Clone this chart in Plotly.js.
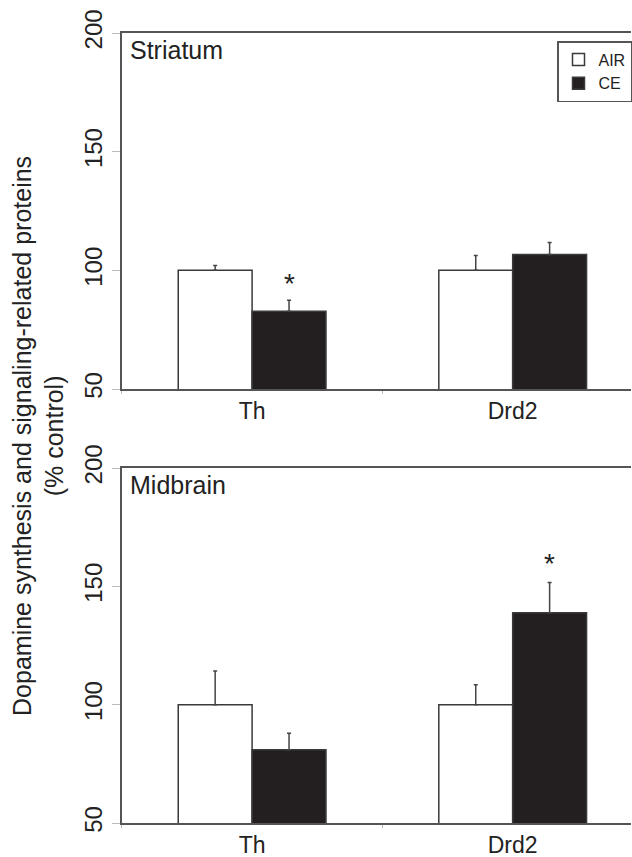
<!DOCTYPE html>
<html>
<head>
<meta charset="utf-8">
<script src="https://cdn.plot.ly/plotly-3.0.1.min.js"></script>
<style>html,body{margin:0;padding:0;background:#fff;}#chart{width:632px;height:857px;}</style>
</head>
<body>
<div id="chart"></div>
<script>
// ---- data ----
const categories = ['Th', 'Drd2'];
const tickVals = [50, 100, 150, 200];

const striatumAir = [100, 100];
const striatumAirErr = [2, 6.3];
const striatumCe = [82.8, 106.7];
const striatumCeErr = [4.6, 5];
const striatumSig = ['*', ''];

const midbrainAir = [100, 100];
const midbrainAirErr = [14.2, 8.4];
const midbrainCe = [81, 138.8];
const midbrainCeErr = [6.9, 12.8];
const midbrainSig = ['', '*'];

const panelNames = ['Striatum', 'Midbrain'];
const seriesNames = ['AIR', 'CE'];
// --------------------------------------

const FONT = 'Liberation Sans, Arial, sans-serif';
const dark = '#231f20';
const lineC = '#555555';
const zeros = categories.map(() => 0);

function barTrace(name, vals, errs, fill, xa, ya, show) {
  return {
    type: 'bar', name: name, x: categories, y: vals,
    xaxis: xa, yaxis: ya, showlegend: show,
    marker: {color: fill, line: {color: '#3a3a3a', width: 1.5}},
    error_y: {type: 'data', symmetric: false, array: errs, arrayminus: zeros,
              color: '#444', thickness: 1.5, width: 2},
    hoverinfo: 'skip'
  };
}

const data = [
  barTrace(seriesNames[0], striatumAir, striatumAirErr, '#ffffff', 'x', 'y', true),
  barTrace(seriesNames[1], striatumCe, striatumCeErr, dark, 'x', 'y', true),
  barTrace(seriesNames[0], midbrainAir, midbrainAirErr, '#ffffff', 'x2', 'y2', false),
  barTrace(seriesNames[1], midbrainCe, midbrainCeErr, dark, 'x2', 'y2', false)
];

const xDom = [122 / 632, 1];
const xRange = [-0.5, -0.5 + 510 / 261];

function xaxis(anchor) {
  return {
    domain: xDom, anchor: anchor, type: 'category', range: xRange,
    showline: true, linecolor: lineC, linewidth: 2, mirror: true,
    ticks: 'outside', tickson: 'boundaries', ticklen: 3, tickcolor: '#bbbbbb', tickwidth: 1,
    showgrid: false, zeroline: false,
    tickfont: {family: FONT, size: 23, color: '#222'}
  };
}
function yaxis(anchor, dom) {
  return {
    domain: dom, anchor: anchor, range: [50, 200],
    tickvals: tickVals, ticktext: tickVals.map(String),
    tickangle: -90,
    showline: true, linecolor: lineC, linewidth: 2, mirror: false,
    ticks: 'outside', ticklen: 8, tickcolor: '#bbbbbb', tickwidth: 1,
    showgrid: false, zeroline: false,
    tickfont: {family: FONT, size: 24, color: '#222'}
  };
}

const annotations = [];
// panel titles
[['x', 'y'], ['x2', 'y2']].forEach((ax, i) => {
  annotations.push({
    xref: ax[0] + ' domain', yref: ax[1] + ' domain', x: 0.012, y: 0.998,
    xanchor: 'left', yanchor: 'top', showarrow: false,
    text: panelNames[i], font: {family: FONT, size: 25, color: '#222'}
  });
});
// significance asterisks over the CE bars
function addSig(sig, vals, errs, xa, ya, off) {
  sig.forEach((s, i) => {
    if (!s) return;
    annotations.push({
      xref: xa, yref: ya, x: i + 0.142, y: vals[i] + errs[i] + off,
      xanchor: 'center', yanchor: 'bottom', showarrow: false,
      text: s, font: {family: FONT, size: 28, color: '#222'}
    });
  });
}
addSig(striatumSig, striatumCe, striatumCeErr, 'x', 'y', -0.5);
addSig(midbrainSig, midbrainCe, midbrainCeErr, 'x2', 'y2', 0.5);
// y axis title shared across both panels
annotations.push({
  xref: 'paper', yref: 'paper', x: 38 / 632, y: 1 - 436 / 857, xanchor: 'center', yanchor: 'middle',
  textangle: -90, showarrow: false,
  text: 'Dopamine synthesis and signaling-related proteins<br>(% control)',
  font: {family: FONT, size: 25, color: '#222'}
});

const layout = {
  width: 632, height: 857,
  margin: {l: 0, r: 0, t: 0, b: 0},
  paper_bgcolor: '#fff', plot_bgcolor: '#fff',
  barmode: 'group', bargap: 0.433, bargroupgap: 0,
  font: {family: FONT, color: '#222'},
  xaxis: xaxis('y'),
  yaxis: yaxis('x', [1 - 389 / 857, 1 - 33 / 857]),
  xaxis2: xaxis('y2'),
  yaxis2: yaxis('x2', [1 - 823 / 857, 1 - 468 / 857]),
  showlegend: true,
  legend: {
    x: 558 / 632, y: 1 - 41 / 857, xanchor: 'left', yanchor: 'top',
    bordercolor: lineC, borderwidth: 1.5, bgcolor: '#fff',
    font: {family: FONT, size: 16, color: '#222'},
    itemwidth: 30, tracegroupgap: 0
  },
  annotations: annotations
};

Plotly.newPlot('chart', data, layout, {staticPlot: true, displayModeBar: false});
</script>
</body>
</html>
